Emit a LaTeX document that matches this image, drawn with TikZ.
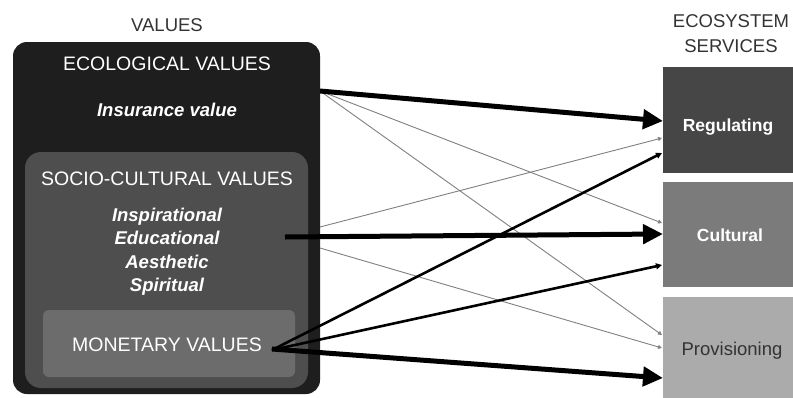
\documentclass[tikz,border=0pt]{standalone}
\usepackage{fontspec}
\setmainfont{Liberation Sans}
\usetikzlibrary{arrows.meta}
\definecolor{outerc}{HTML}{1E1E1E}
\definecolor{socioc}{HTML}{4E4E4E}
\definecolor{monc}{HTML}{6C6C6C}
\definecolor{regc}{HTML}{464646}
\definecolor{culc}{HTML}{7B7B7B}
\definecolor{provc}{HTML}{ABABAB}
\definecolor{headc}{HTML}{333333}
\definecolor{thinc}{HTML}{808080}
\begin{document}
\begin{tikzpicture}[x=1pt,y=-1pt,
  box/.style={inner sep=0pt, draw=none},
  lbl/.style={inner sep=0pt, anchor=base, text=white},
  hd/.style={inner sep=0pt, anchor=base, text=headc, font=\fontsize{18.5}{20}\selectfont},
  big/.style={font=\fontsize{19.5}{22}\selectfont},
  ital/.style={font=\fontsize{18.5}{20}\selectfont\bfseries\itshape},
  thickarr/.style={line width=5pt, -{Triangle[length=20pt,width=19pt]}},
  thinarr/.style={line width=0.9pt, draw=thinc, -{Triangle[length=4pt,width=4pt]}, shorten <=0pt},
  medarr/.style={line width=2.6pt, -{Triangle[length=6pt,width=6pt]}}
]
\useasboundingbox (0,0) rectangle (793,397);
\fill[white] (0,0) rectangle (793,397);

% left boxes
\node[box, fill=outerc, rounded corners=14pt, minimum width=307pt, minimum height=352pt] (values) at (166.5,218) {};
\node[box, fill=socioc, rounded corners=16pt, minimum width=283pt, minimum height=236pt] (socio) at (166.5,270) {};
\node[box, fill=monc, rounded corners=6pt, minimum width=252pt, minimum height=67pt] (mon) at (169,343.5) {};

% right boxes
\node[box, fill=regc, minimum width=130pt, minimum height=106pt] (reg) at (728,120) {};
\node[box, fill=culc, minimum width=130pt, minimum height=105pt] (cul) at (728,234.5) {};
\node[box, fill=provc, minimum width=130pt, minimum height=102pt] (prov) at (728,348) {};

% headings
\node[hd] (hvalues) at (167,31) {VALUES};
\node[hd] (heco1) at (731,27) {ECOSYSTEM};
\node[hd] (heco2) at (731,52) {SERVICES};

% left labels
\node[lbl, big] (ecol) at (167,70) {ECOLOGICAL VALUES};
\node[lbl, ital] (ins) at (167,116) {Insurance value};
\node[lbl, big] (soc) at (167,185) {SOCIO-CULTURAL VALUES};
\node[lbl, ital] (insp) at (167,221) {Inspirational};
\node[lbl, ital] (edu) at (167,244) {Educational};
\node[lbl, ital] (aes) at (167,268) {Aesthetic};
\node[lbl, ital] (spi) at (167,291) {Spiritual};
\node[lbl, big] (monl) at (167,351) {MONETARY VALUES};

% right labels
\node[lbl, font=\fontsize{17.5}{20}\selectfont\bfseries] (regl) at (728,131) {Regulating};
\node[lbl, font=\fontsize{17.5}{20}\selectfont\bfseries] (cull) at (730,241) {Cultural};
\node[lbl, text=headc, font=\fontsize{18.5}{20}\selectfont] (provl) at (732,355) {Provisioning};

% connector anchor points
\coordinate (sEco) at (320,91);
\coordinate (sEduA) at (320,227);
\coordinate (sEduB) at (320,248);
\coordinate (sEduT) at (285,237);
\coordinate (sMon) at (272,350);
\coordinate (sMonT) at (272,349);

\coordinate (eReg1) at (663,121);
\coordinate (eReg2) at (662,138);
\coordinate (eReg3) at (662,153);
\coordinate (eCul1) at (662,223);
\coordinate (eCul2) at (663,234);
\coordinate (eCul3) at (662,265);
\coordinate (eProv1) at (662,335);
\coordinate (eProv2) at (662,348);
\coordinate (eProv3) at (663,378);

% thin connectors
\draw[thinarr] (sEco) -- (eCul1);
\draw[thinarr] (sEco) -- (eProv1);
\draw[thinarr] (sEduA) -- (eReg2);
\draw[thinarr] (sEduB) -- (eProv2);

% medium connectors
\draw[medarr] (sMon) -- (eReg3);
\draw[medarr] (sMon) -- (eCul3);

% thick connectors
\draw[thickarr] (sEco) -- (eReg1);
\draw[thickarr] (sEduT) -- (eCul2);
\draw[thickarr] (sMonT) -- (eProv3);
\end{tikzpicture}
\end{document}
